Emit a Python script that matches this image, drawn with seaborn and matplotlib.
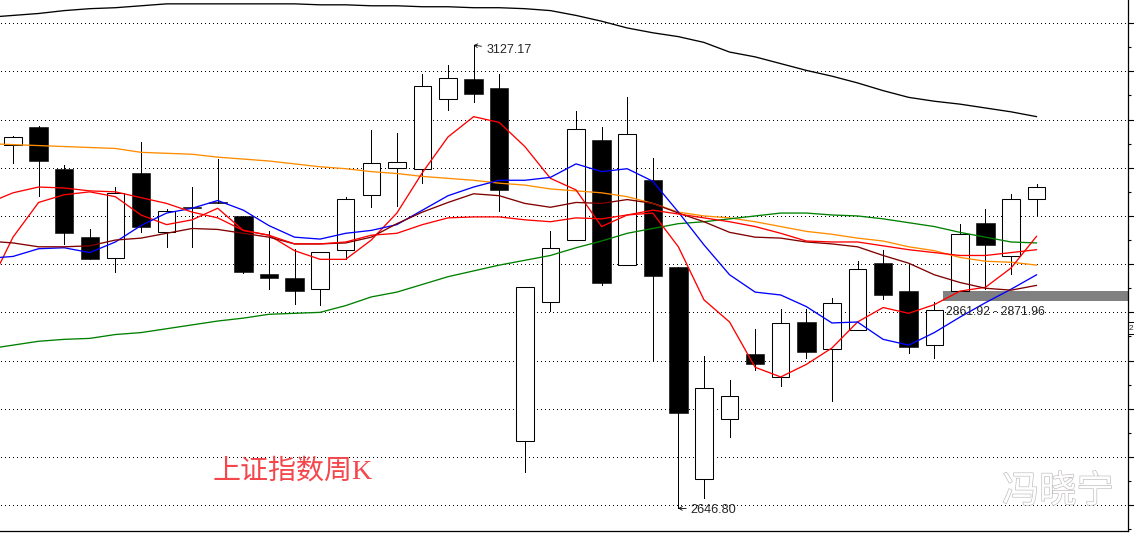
import numpy as np
import pandas as pd
import matplotlib
matplotlib.use("Agg")
import matplotlib.pyplot as plt
import matplotlib.patheffects as pe
import seaborn as sns

# weekly candles
opens = [3024, 3042, 2999, 2928, 2906, 2995, 2933, 2959, 2964, 2950, 2890, 2886, 2874, 2915,
         2972, 3000, 2999, 3071, 3092, 3083, 2717, 2861, 2925, 3029, 2899, 2987, 2897, 2677,
         2739, 2807, 2783, 2840, 2812, 2832, 2901, 2872, 2816, 2872, 2943, 2908, 2968]
closes = [3032, 3007, 2932, 2905, 2974, 2939, 2955, 2958, 2963, 2892, 2886, 2872, 2913, 2968,
          3005, 3006, 3085, 3093, 3076, 2977, 2876, 2917, 3040, 2880, 3035, 2888, 2746, 2772,
          2763, 2796, 2839, 2809, 2860, 2895, 2868, 2814, 2852, 2931, 2920, 2968, 2980]
highs = [3033, 3043, 3003, 2936, 2980, 3027, 2957, 2980, 3009, 2950, 2934, 2916, 2913, 2970,
         3039, 3036, 3097, 3107, 3127.17, 3097, 2876, 2934, 3059, 3042, 3073, 3010, 2897, 2805,
         2780, 2833, 2853, 2853, 2865, 2903, 2915, 2901, 2861, 2942, 2957, 2973, 2983]
lows = [3005, 2971, 2921, 2905, 2892, 2933, 2918, 2918, 2963, 2891, 2874, 2859, 2858, 2905,
        2959, 2960, 2984, 3060, 3068, 2955, 2684, 2851, 2925, 2878, 2899, 2800, 2646.80, 2657,
        2721, 2790, 2774, 2803, 2758, 2832, 2864, 2808, 2803, 2872, 2874, 2890, 2950]

# moving averages, first value is the week before the first candle (left of the frame)
ma_black = [3156, 3158, 3160, 3163, 3165, 3166, 3168, 3170, 3170, 3170, 3170, 3170, 3170, 3169,
            3169, 3168, 3168, 3167, 3167, 3166, 3166, 3165, 3163, 3158, 3152, 3145, 3140, 3136,
            3130, 3120, 3115, 3108, 3101, 3095, 3088, 3080, 3073, 3069, 3066, 3062, 3058, 3053]
ma_orange = [3025, 3024, 3023, 3022, 3021, 3020, 3016, 3015, 3014, 3011, 3009, 3007, 3004, 3001,
             2999, 2996, 2994, 2991, 2989, 2987, 2984, 2982, 2978, 2976, 2974, 2970, 2963, 2954,
             2950, 2948, 2944, 2939, 2934, 2931, 2927, 2924, 2918, 2914, 2907, 2903, 2902, 2899]
ma_green = [2812, 2816, 2820, 2822, 2823, 2827, 2829, 2833, 2837, 2841, 2844, 2848, 2849, 2850,
            2857, 2866, 2871, 2879, 2887, 2893, 2899, 2904, 2909, 2917, 2924, 2932, 2937, 2942,
            2944, 2947, 2950, 2953, 2953, 2951, 2950, 2947, 2943, 2939, 2933, 2928, 2923, 2922]
ma_fast = [2874, 2928, 2964, 2972, 2975, 2970, 2951, 2941, 2946, 2958, 2935, 2930, 2914, 2905,
           2905, 2925, 2953, 2995, 3032, 3053, 3047, 3022, 2989, 2977, 2939, 2951, 2953, 2918,
           2863, 2840, 2793, 2783, 2796, 2813, 2840, 2855, 2849, 2858, 2872, 2876, 2896, 2929]
ma_blue = [2906, 2908, 2916, 2917, 2912, 2923, 2940, 2953, 2958, 2966, 2956, 2940, 2928, 2926,
           2932, 2935, 2941, 2956, 2971, 2980, 2987, 2987, 2990, 3004, 2996, 2999, 2986, 2954,
           2920, 2889, 2871, 2868, 2856, 2839, 2840, 2822, 2816, 2829, 2845, 2860, 2874, 2889]
ma_dark = [2924, 2922, 2918, 2918, 2919, 2925, 2927, 2932, 2937, 2936, 2932, 2928, 2921, 2921,
           2922, 2928, 2942, 2954, 2964, 2973, 2971, 2963, 2959, 2964, 2963, 2967, 2963, 2953,
           2944, 2933, 2928, 2927, 2923, 2921, 2918, 2909, 2901, 2889, 2881, 2875, 2873, 2878]
ma_red = [2963, 2974, 2980, 2979, 2976, 2975, 2969, 2963, 2954, 2948, 2935, 2930, 2921, 2921,
          2923, 2930, 2932, 2941, 2948, 2949, 2949, 2946, 2944, 2948, 2947, 2951, 2956, 2952,
          2948, 2944, 2939, 2932, 2924, 2923, 2923, 2919, 2915, 2912, 2909, 2909, 2912, 2915]

grid_levels = [3150, 3100, 3050, 3000, 2950, 2900, 2850, 2800, 2750, 2700, 2650]
minor_levels = [3125, 3075, 3025, 2975, 2925, 2875, 2825, 2775, 2725, 2675, 2625]
zone_low = 2861.92
zone_high = 2871.96

sns.set_style("white")
plt.rcParams['font.family'] = ['Liberation Sans', 'Noto Sans CJK SC']

W, H = 1134, 533
fig = plt.figure(figsize=(W / 100, H / 100), dpi=100, facecolor='white')
ax = fig.add_axes([0, 2 / H, 1128 / W, 531 / H])

weeks = np.arange(len(opens))
ma_names = ['black', 'orange', 'green', 'fast', 'blue', 'dark', 'red']
ma_values = [ma_black, ma_orange, ma_green, ma_fast, ma_blue, ma_dark, ma_red]
ma_df = pd.DataFrame({
    'week': np.tile(np.arange(-1, len(opens)), len(ma_names)),
    'price': np.concatenate(ma_values),
    'ma': np.repeat(ma_names, len(ma_black)),
})
palette = {'black': '#000000', 'orange': '#ff8c00', 'green': '#008000', 'fast': '#ff0000',
           'blue': '#0000ff', 'dark': '#800000', 'red': '#ff0000'}

# grid and support zone go under everything
ax.hlines(grid_levels, -0.47, 43.57, color='black', lw=0.72, linestyles=[(0, (1, 3))],
          zorder=1, antialiased=False)
ax.fill_between([36.34, 43.57], zone_low, zone_high, color='#808080', lw=0, zorder=1.5)

# candles
for i in weeks:
    top = max(opens[i], closes[i])
    bot = min(opens[i], closes[i])
    ax.vlines(i, lows[i], highs[i], color='black', lw=0.72, zorder=2, antialiased=False)
    if closes[i] >= opens[i]:
        ax.bar(i, top - bot, bottom=bot, width=0.68, facecolor='white', edgecolor='black',
               lw=0.75, zorder=2.2)
    else:
        ax.bar(i, top - bot, bottom=bot, width=0.72, facecolor='black', edgecolor='black',
               lw=0.4, zorder=2.2)

sns.lineplot(data=ma_df, x='week', y='price', hue='ma', palette=palette, legend=False, ax=ax,
             zorder=3, estimator=None, sort=False)
# seaborn keeps its own line width, so set it on the lines afterwards
for line in ax.get_lines():
    line.set_linewidth(0.95)

ax.set_xlim(-0.508, 43.57)
ax.set_ylim(2623.2, 3174)

ax.xaxis.set_visible(False)
ax.yaxis.tick_right()
ax.set_yticks(grid_levels)
ax.set_yticks(minor_levels, minor=True)
ax.tick_params(axis='y', which='major', length=4.3, width=0.8, color='black', labelright=False,
               right=True, left=False)
ax.tick_params(axis='y', which='minor', length=2, width=0.8, color='black', right=True, left=False)
ax.set_ylabel('')
for side in ['top', 'left']:
    ax.spines[side].set_visible(False)
for side in ['right', 'bottom']:
    ax.spines[side].set_visible(True)
    ax.spines[side].set_color('black')
    ax.spines[side].set_linewidth(0.9)

# high and low marks
arrow = dict(arrowstyle='->,head_length=0.25,head_width=0.15', lw=0.6, color='black',
             shrinkA=1, shrinkB=0)
ax.annotate('3127.17', xy=(18, 3127.17), xytext=(9, -3.6), textcoords='offset points',
            fontsize=9, va='center', ha='left', arrowprops=arrow, zorder=5)
ax.annotate('2646.80', xy=(26, 2646.8), xytext=(9, -1), textcoords='offset points',
            fontsize=9.2, va='center', ha='left', arrowprops=arrow, zorder=5)
ax.text(36.46, 2850.5, '2861.92 - 2871.96', fontsize=8.7, va='center', ha='left', zorder=5)

ax.text(7.81, 2685, '上证指数周K', fontsize=20.2, color='#f4474c', va='center', ha='left',
        family=['Liberation Serif', 'Noto Sans CJK SC'], zorder=5)

ax.text(38.65, 2664, '冯晓宁', fontsize=26.8, color='white', va='center', ha='left', zorder=5,
        family=['Noto Sans CJK SC'],
        path_effects=[pe.withStroke(linewidth=0.9, foreground='#bdb8bd')])

# small price tag on the axis
fig.text(1129 / W, 1 - 328 / H, '2', fontsize=6, va='center', ha='left')
fig.add_artist(plt.Line2D([1128 / W, 1], [1 - 322 / H] * 2, color='black', lw=0.7))
fig.add_artist(plt.Line2D([1128 / W, 1], [1 - 334 / H] * 2, color='black', lw=0.7))

fig.savefig('out.png', dpi=100)
